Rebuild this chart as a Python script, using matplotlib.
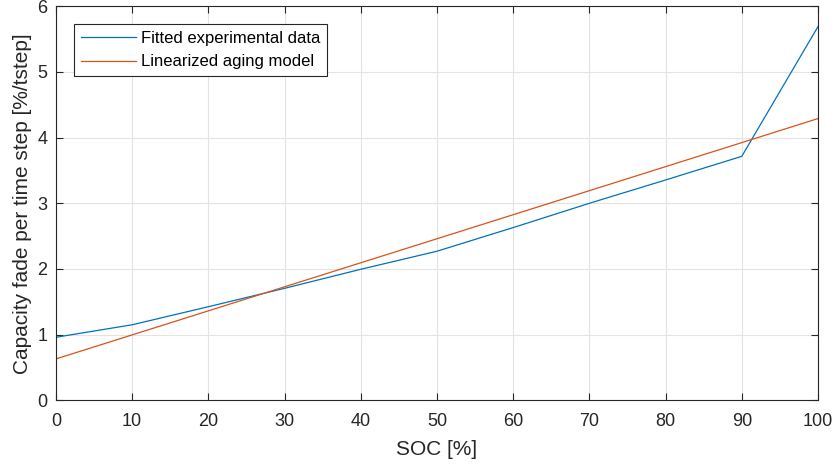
import numpy as np
import matplotlib as mpl
mpl.use('Agg')
import matplotlib.pyplot as plt

# SOC grid and the two capacity-fade curves
soc = [0, 10, 20, 30, 40, 50, 60, 70, 80, 90, 100]
fade_fitted = [0.96, 1.15, 1.425, 1.705, 1.995, 2.27, 2.63, 3.0, 3.355, 3.715, 5.69]
soc_lin = [0, 100]
fade_linear = [0.63, 4.29]

xticks = list(range(0, 101, 10))
yticks = list(range(0, 7))

plt.rcParams['font.family'] = ['Liberation Sans', 'DejaVu Sans']

fig = plt.figure(figsize=(8.35, 4.66), dpi=100)
ax = fig.add_axes([0.067, 0.141, 0.9126, 0.8455])

ax.plot(soc, fade_fitted, color='#0072BD', linewidth=0.9, label='Fitted experimental data')
ax.plot(soc_lin, fade_linear, color='#D95319', linewidth=0.9, label='Linearized aging model')

ax.set_xlim(0, 100)
ax.set_ylim(0, 6)
ax.set_xticks(xticks)
ax.set_yticks(yticks)
ax.grid(True, color='#e3e3e3', linewidth=0.8)
ax.set_axisbelow(True)

for sp in ax.spines.values():
    sp.set_color('#262626')
    sp.set_linewidth(0.8)
ax.tick_params(direction='in', top=True, right=True, length=5, width=0.8,
               colors='#262626', labelsize=13)
ax.tick_params(axis='x', pad=9)
ax.tick_params(axis='y', pad=6)

ax.set_xlabel('SOC [%]', fontsize=15, color='#262626', labelpad=7)
ax.set_ylabel('Capacity fade per time step [%/tstep]', fontsize=15, color='#262626', labelpad=4)

leg = ax.legend(loc='upper left', bbox_to_anchor=(0.0236, 0.954), borderaxespad=0,
                fontsize=12, fancybox=False, framealpha=1, edgecolor='#262626',
                handlelength=3.3, handletextpad=0.3, borderpad=0.4, labelspacing=0.5)
leg.get_frame().set_linewidth(0.8)

fig.savefig('out.png', dpi=100)
